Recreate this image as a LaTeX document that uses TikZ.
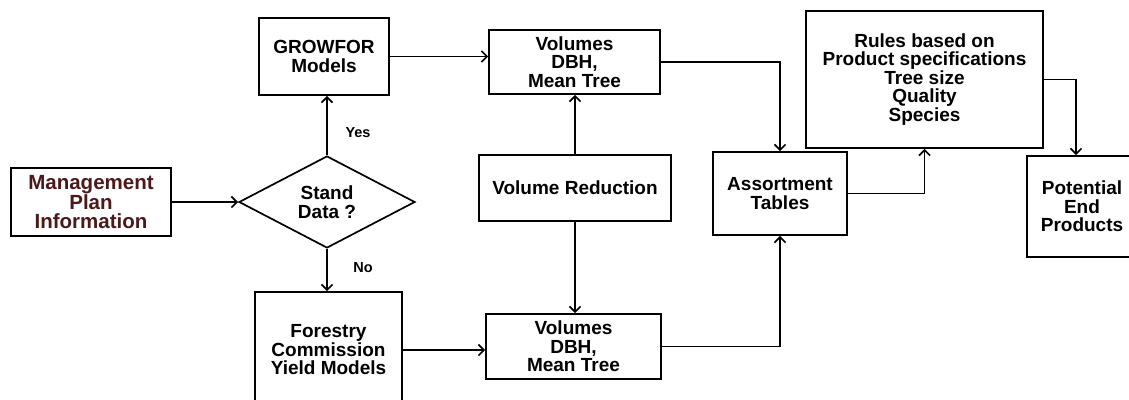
\documentclass[tikz,border=0pt]{standalone}
\usepackage{fontspec}
\setmainfont{Liberation Sans}
\usetikzlibrary{shapes.geometric,arrows.meta}
\definecolor{plancol}{RGB}{75,25,25}
\begin{document}
\begin{tikzpicture}[x=1pt,y=-1pt,
    box/.style={draw,line width=1.7pt,align=center,inner sep=0pt,
        font=\bfseries\fontsize{19}{18.5}\selectfont},
    decision/.style={draw,diamond,line width=1.7pt,align=center,inner sep=0pt,aspect=1.9,
        minimum width=176pt,minimum height=92pt,font=\bfseries\fontsize{19}{18.5}\selectfont},
    link/.style={line width=1.2pt,-{Straight Barb[length=5.5pt,width=11pt,line width=1.7pt]}},
    tag/.style={font=\bfseries\fontsize{14.5}{16}\selectfont}]
    \useasboundingbox (0,0) rectangle (1129,399);
    \node[box,minimum width=160pt,minimum height=68pt,text=plancol,
        font=\bfseries\fontsize{20.5}{18.5}\selectfont] (plan) at (91,202) {Management\\Plan\\Information};
    \node[decision] (stand) at (327,202) {Stand\\Data ?};
    \node[box,minimum width=130pt,minimum height=77pt] (growfor) at (324,56.5) {GROWFOR\\Models};
    \node[box,minimum width=147pt,minimum height=116pt] (fcmodels) at (328.5,350) {Forestry\\Commission\\Yield Models};
    \node[box,minimum width=171pt,minimum height=64pt] (voltop) at (574.5,62) {Volumes\\DBH,\\Mean Tree};
    \node[box,minimum width=192pt,minimum height=66pt] (volred) at (575,188) {Volume Reduction};
    \node[box,minimum width=175pt,minimum height=65pt] (volbot) at (573.5,346.5) {Volumes\\DBH,\\Mean Tree};
    \node[box,minimum width=134pt,minimum height=83pt] (assort) at (780,193.5) {Assortment\\Tables};
    \node[box,minimum width=237pt,minimum height=137pt] (rules) at (924.5,79.5) {Rules based on\\Product specifications\\Tree size\\Quality\\Species};
    \node[box,minimum width=110pt,minimum height=101pt] (endprod) at (1082,206.5) {Potential\\End\\Products};
    \draw[link] (plan.east) -- (stand.west);
    \draw[link] (stand.north) -- (stand.north |- growfor.south);
    \node[tag] (yes) at (358,133) {Yes};
    \draw[link] (stand.south) -- (stand.south |- fcmodels.north);
    \node[tag] (no) at (363,268) {No};
    \draw[link] (growfor.east) -- (growfor.east -| voltop.west);
    \draw[link] (volred.north) -- (volred.north |- voltop.south);
    \draw[link] (volred.south) -- (volred.south |- volbot.north);
    \draw[link] (fcmodels.east) -- (fcmodels.east -| volbot.west);
    \draw[link] (voltop.east) -| (assort.north);
    \draw[link] (volbot.east) -| (assort.south);
    \draw[link] (assort.east) -| (rules.south);
    \draw[link] (rules.east) -| ([xshift=-6pt]endprod.north);
\end{tikzpicture}
\end{document}
